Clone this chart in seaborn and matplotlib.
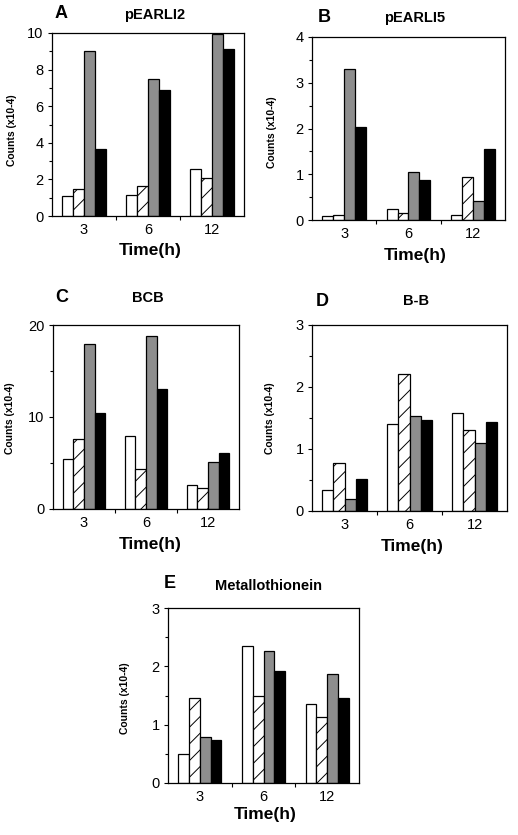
import numpy as np
import pandas as pd
import matplotlib
matplotlib.use("Agg")
import matplotlib.pyplot as plt
import seaborn as sns

sns.set_style("ticks")
plt.rcParams['font.family'] = ['Liberation Sans', 'DejaVu Sans']
plt.rcParams['hatch.linewidth'] = 0.7
for k in ['text.color', 'axes.labelcolor', 'xtick.color', 'ytick.color', 'axes.edgecolor']:
    plt.rcParams[k] = 'black'

times = ["3", "6", "12"]
series = ["s1", "s2", "s3", "s4"]

pearli2 = {"s1": [1.09, 1.13, 2.55], "s2": [1.50, 1.64, 2.06],
           "s3": [9.03, 7.48, 9.95], "s4": [3.67, 6.88, 9.14]}
pearli5 = {"s1": [0.09, 0.23, 0.11], "s2": [0.12, 0.16, 0.95],
           "s3": [3.29, 1.05, 0.41], "s4": [2.03, 0.87, 1.56]}
bcb = {"s1": [5.47, 7.90, 2.57], "s2": [7.65, 4.38, 2.28],
       "s3": [17.9, 18.8, 5.10], "s4": [10.4, 13.0, 6.05]}
bb = {"s1": [0.34, 1.40, 1.58], "s2": [0.77, 2.21, 1.31],
      "s3": [0.19, 1.53, 1.09], "s4": [0.51, 1.47, 1.44]}
metallo = {"s1": [0.50, 2.35, 1.35], "s2": [1.46, 1.50, 1.14],
           "s3": [0.79, 2.26, 1.87], "s4": [0.73, 1.92, 1.46]}

panels = [
    dict(letter="A", title="pEARLI2", data=pearli2, yticks=[0, 2, 4, 6, 8, 10], minor=1,
         box=(52, 33, 244, 216), let=(55, 14), tit=(155, 15), xl=(150, 251), yl=(12, 130)),
    dict(letter="B", title="pEARLI5", data=pearli5, yticks=[0, 1, 2, 3, 4], minor=0.5,
         box=(312, 37, 505, 220), let=(318, 17), tit=(415, 18), xl=(415, 255), yl=(272, 132)),
    dict(letter="C", title="BCB", data=bcb, yticks=[0, 10, 20], minor=5,
         box=(53, 325, 239, 509), let=(55, 297), tit=(148, 298), xl=(150, 544), yl=(10, 418)),
    dict(letter="D", title="B-B", data=bb, yticks=[0, 1, 2, 3], minor=0.5,
         box=(312, 325, 507, 511), let=(316, 301), tit=(416, 301), xl=(412, 546), yl=(270, 418)),
    dict(letter="E", title="Metallothionein", data=metallo, yticks=[0, 1, 2, 3], minor=0.5,
         box=(168, 608, 359, 783), let=(164, 584), tit=(268, 586), xl=(265, 815), yl=(125, 698)),
]

W, H = 518, 835
fig = plt.figure(figsize=(W / 100, H / 100), dpi=100)
palette = ["white", "white", "#8e8e8e", "black"]

for p in panels:
    l, t, r, b = p["box"]
    ax = fig.add_axes([l / W, 1 - b / H, (r - l) / W, (b - t) / H])
    rows = []
    for s in series:
        for tm, v in zip(times, p["data"][s]):
            rows.append({"time": tm, "series": s, "value": v})
    df = pd.DataFrame(rows)
    sns.barplot(data=df, x="time", y="value", hue="series", order=times,
                hue_order=series, palette=palette, edgecolor="black",
                linewidth=0.9, width=0.68, ax=ax, legend=False)
    for bar in ax.containers[1]:
        bar.set_hatch("//")
    ax.set_xlim(-0.5, 2.5)
    ax.set_ylim(0, p["yticks"][-1])
    ax.set_yticks(p["yticks"])
    ax.set_yticks(np.arange(0, p["yticks"][-1] + 1e-9, p["minor"]), minor=True)
    ax.set_xticks([0.5, 1.5], minor=True)
    ax.tick_params(axis="x", which="major", length=0, labelsize=10.5, pad=5)
    ax.tick_params(axis="x", which="minor", length=3, width=0.8)
    ax.tick_params(axis="y", which="major", length=3, width=0.8, labelsize=10.5, pad=3)
    ax.tick_params(axis="y", which="minor", length=2, width=0.8)
    ax.set_xlabel("")
    ax.set_ylabel("")
    for sp in ax.spines.values():
        sp.set_visible(True)
        sp.set_linewidth(0.9)
        sp.set_color("black")
    fig.text(p["let"][0] / W, 1 - p["let"][1] / H, p["letter"], fontsize=13,
             fontweight="bold", ha="left", va="center")
    fig.text(p["tit"][0] / W, 1 - p["tit"][1] / H, p["title"], fontsize=10.5,
             fontweight="bold", ha="center", va="center")
    fig.text(p["xl"][0] / W, 1 - p["xl"][1] / H, "Time(h)", fontsize=12.5,
             fontweight="bold", ha="center", va="center")
    fig.text(p["yl"][0] / W, 1 - p["yl"][1] / H, "Counts (x10-4)", fontsize=7.5,
             fontweight="bold", ha="center", va="center", rotation=90)

fig.savefig("out.png", dpi=100, facecolor="white")
